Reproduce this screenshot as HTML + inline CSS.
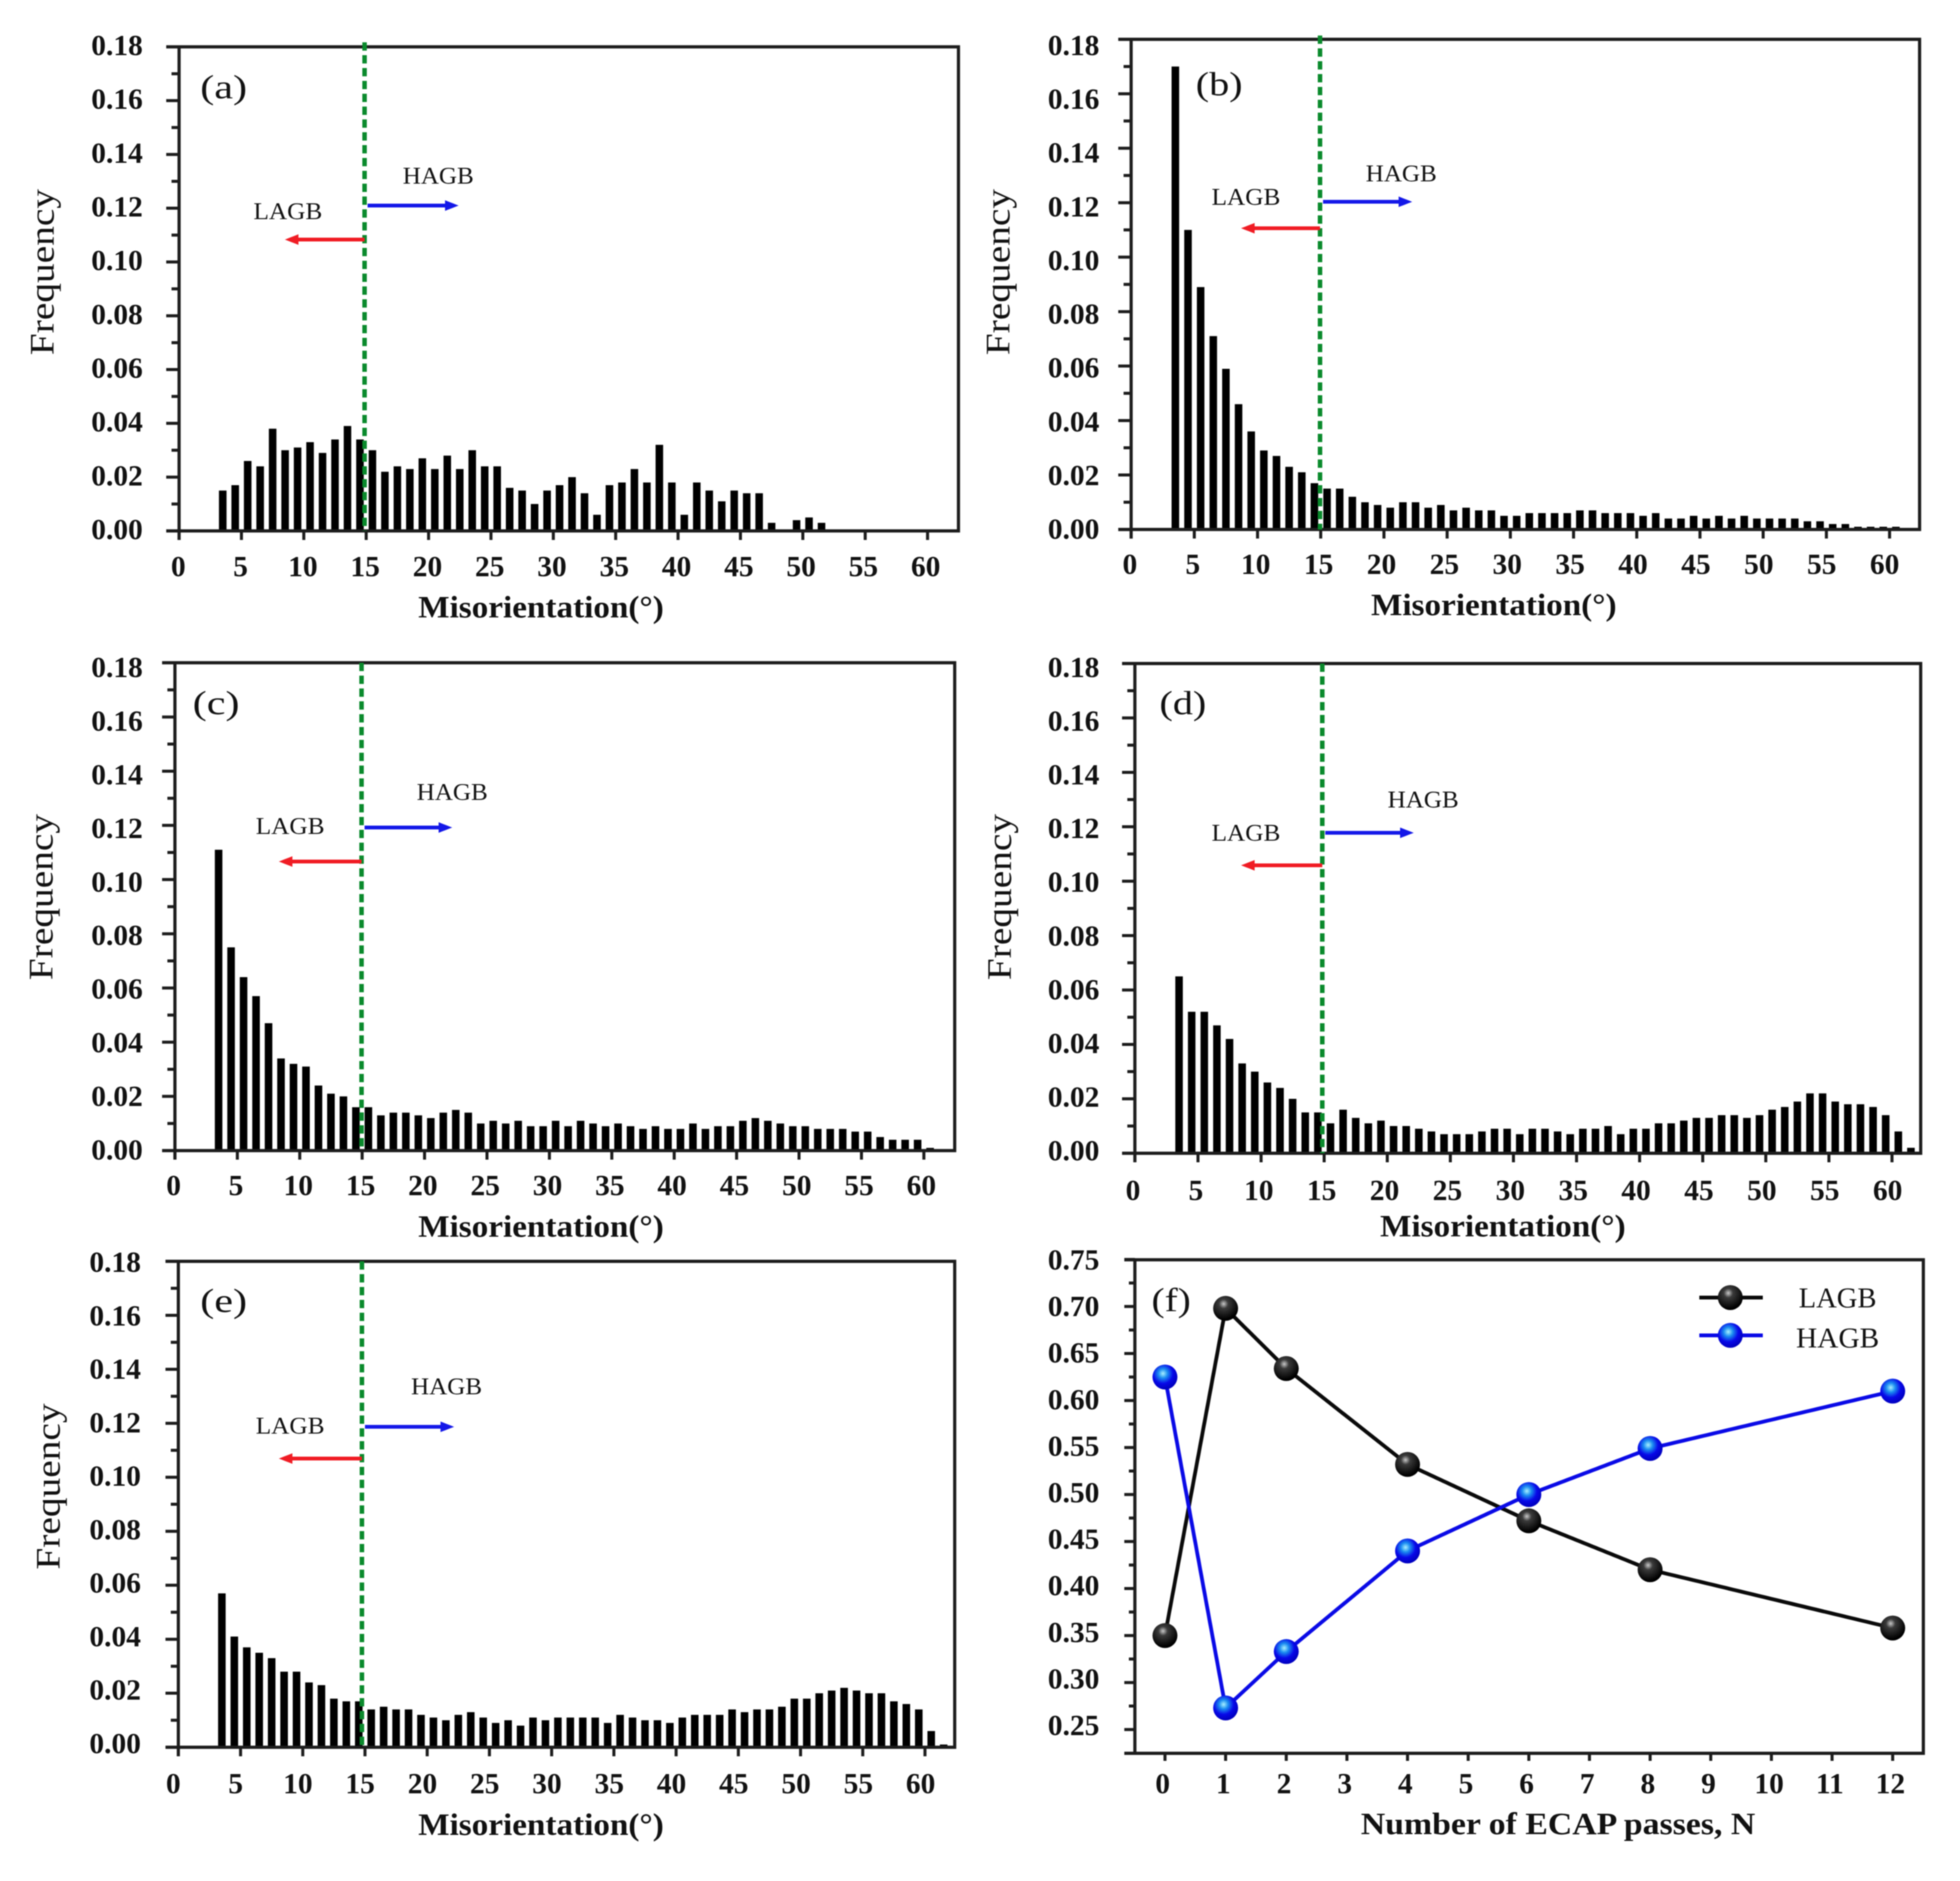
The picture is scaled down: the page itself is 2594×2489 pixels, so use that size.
<!DOCTYPE html>
<html lang="en">
<head>
<meta charset="utf-8">
<title>Misorientation distributions and LAGB/HAGB fractions</title>
<style>
html,body{margin:0;padding:0;background:#fff;width:2594px;height:2489px;overflow:hidden}
svg{display:block;filter:blur(0.9px)}
text{font-family:"Liberation Serif",serif;fill:#111}
.tick{font-weight:bold;font-size:39px}
.title{font-weight:bold;font-size:41px}
.freq{font-size:46px}
.note{font-size:32px}
.letter{font-size:44px}
.legend{font-size:38px}
</style>
</head>
<body>
<svg id="figure" xmlns="http://www.w3.org/2000/svg" width="2594" height="2489" viewBox="0 0 2594 2489">
<defs>
<radialGradient id="ballBlack" cx="0.42" cy="0.32" r="0.62">
<stop offset="0" stop-color="#c8c8c8"/><stop offset="0.3" stop-color="#3a3a3a"/><stop offset="1" stop-color="#000"/>
</radialGradient>
<radialGradient id="ballBlue" cx="0.42" cy="0.36" r="0.62">
<stop offset="0" stop-color="#a8f0ff"/><stop offset="0.3" stop-color="#1a8cf0"/><stop offset="0.65" stop-color="#0808e8"/><stop offset="1" stop-color="#0000c0"/>
</radialGradient>
</defs>
<rect x="0" y="0" width="2594" height="2489" fill="#ffffff"/>
</svg>
<script>
// ---- Histogram data: frequency per 1-degree bin, first bin centred at 3.5 degrees ----
const firstBinCentre = 3.5;
const freqA = [.015,.017,.026,.024,.038,.030,.031,.033,.029,.034,.039,.034,.030,.022,.024,.023,.027,.023,.028,.023,.030,.024,.024,.016,.015,.010,.015,.017,.020,.014,.006,.017,.018,.023,.018,.032,.018,.006,.018,.015,.011,.015,.014,.014,.003,0,.004,.005,.003];
const freqB = [.170,.110,.089,.071,.059,.046,.036,.029,.027,.023,.021,.017,.015,.015,.012,.010,.009,.008,.010,.010,.008,.009,.007,.008,.007,.007,.005,.005,.006,.006,.006,.006,.007,.007,.006,.006,.006,.005,.006,.004,.004,.005,.004,.005,.004,.005,.004,.004,.004,.004,.003,.003,.002,.002,.001,.001,.001,.001];
const freqC = [.111,.075,.064,.057,.047,.034,.032,.031,.024,.021,.020,.016,.016,.013,.014,.014,.013,.012,.014,.015,.014,.010,.011,.010,.011,.009,.009,.011,.009,.011,.010,.009,.010,.009,.008,.009,.008,.008,.010,.008,.009,.009,.011,.012,.011,.010,.009,.009,.008,.008,.008,.007,.007,.005,.004,.004,.004,.001];
const freqD = [.065,.052,.052,.047,.042,.033,.030,.026,.024,.020,.015,.015,.011,.016,.013,.011,.012,.010,.010,.009,.008,.007,.007,.007,.008,.009,.009,.007,.009,.009,.008,.007,.009,.009,.010,.007,.009,.009,.011,.011,.012,.013,.013,.014,.014,.013,.014,.016,.017,.019,.022,.022,.019,.018,.018,.017,.014,.008,.002];
const freqE = [.057,.041,.037,.035,.033,.028,.028,.024,.023,.018,.017,.017,.014,.015,.014,.014,.012,.011,.010,.012,.013,.011,.009,.010,.008,.011,.010,.011,.011,.011,.011,.009,.012,.011,.010,.010,.009,.011,.012,.012,.012,.014,.013,.014,.014,.015,.018,.018,.020,.021,.022,.021,.020,.020,.017,.016,.014,.006,.001];
const freqTickLabels = ["0.00","0.02","0.04","0.06","0.08","0.10","0.12","0.14","0.16","0.18"];
const misorientationTicks = [0,5,10,15,20,25,30,35,40,45,50,55,60];

// ---- Line chart data (panel f) ----
const passCounts = [0,1,2,4,6,8,12];
const lagbFraction = [.350,.698,.634,.532,.472,.420,.358];
const hagbFraction = [.625,.273,.333,.440,.500,.549,.610];
const passTicks = [0,1,2,3,4,5,6,7,8,9,10,11,12];
const fractionTicks = ["0.25","0.30","0.35","0.40","0.45","0.50","0.55","0.60","0.65","0.70","0.75"];

const svg = document.getElementById('figure');
const NS = 'http://www.w3.org/2000/svg';
function add(parent, tag, attrs, txt) {
  const el = document.createElementNS(NS, tag);
  for (const k in attrs) el.setAttribute(k, attrs[k]);
  if (txt !== undefined) el.textContent = txt;
  parent.appendChild(el);
  return el;
}

function drawArrow(g, x1, x2, y, color, name) {
  const dir = x2 > x1 ? 1 : -1;
  const shaft = add(g, 'line', {x1: x1, y1: y, x2: x2 - dir * 12, y2: y, stroke: color, 'stroke-width': 5});
  
  
  const head = add(g, 'polygon', {points: x2 + ',' + y + ' ' + (x2 - dir * 18) + ',' + (y - 7) + ' ' + (x2 - dir * 18) + ',' + (y + 7), fill: color});
  
  
}

function drawHistogram(L, values) {
  const g = add(svg, 'g', {});
  
  
  const xs = function (v) { return L.x0 + v * L.pxPerDeg; };
  const ys = function (v) { return L.zero - v * (L.zero - L.top) / 0.18; };
  const labelY = function (v) { return L.labelY0 + (L.labelY18 - L.labelY0) * v / 0.18 + 13; };
  const labelX = function (v) { return xs(v) + L.labelDx0 + (L.labelDx60 - L.labelDx0) * v / 60; };

  values.forEach(function (v, i) {
    const cx = xs(firstBinCentre + i);
    const bar = add(g, 'rect', {x: cx - 5, y: ys(v), width: 10, height: L.zero - ys(v), fill: '#000'});
    
    
  });

  const frame = add(g, 'path', {d: 'M' + (L.x0 - 17) + ' ' + L.top + 'H' + L.right + 'V' + L.zero + 'H' + (L.x0 - 17) + 'M' + L.x0 + ' ' + L.top + 'V' + (L.zero + 12), fill: 'none', stroke: '#1c1c1c', 'stroke-width': 4.2});
  
  

  for (let k = 1; k < 18; k += 2) {
    const minor = add(g, 'line', {x1: L.x0 - 10, x2: L.x0, y1: ys(k / 100), y2: ys(k / 100), stroke: '#1c1c1c', 'stroke-width': 4});
    
    
  }
  freqTickLabels.forEach(function (lab) {
    const v = parseFloat(lab);
    const y = ys(v);
    const tick = add(g, 'line', {x1: L.x0 - 17, x2: L.x0, y1: y, y2: y, stroke: '#1c1c1c', 'stroke-width': 4});
    
    
    const t = add(g, 'text', {'class': 'tick', x: L.labelRight, y: labelY(v), 'text-anchor': 'end'}, lab);
    
    
  });
  misorientationTicks.forEach(function (v) {
    const x = xs(v);
    const tick = add(g, 'line', {x1: x, x2: x, y1: L.zero, y2: L.zero + 12, stroke: '#1c1c1c', 'stroke-width': 4});
    
    
    const t = add(g, 'text', {'class': 'tick', x: labelX(v), y: L.zero + L.labelDy, 'text-anchor': 'middle'}, String(v));
    
    
  });

  const divider = add(g, 'line', {x1: L.green, x2: L.green, y1: L.greenTop, y2: L.zero, stroke: '#0a8a2c', 'stroke-width': 6, 'stroke-dasharray': '11 6'});
  
  

  drawArrow(g, L.green + 4, L.blueEnd, L.blueY, '#1418e8', 'hagb-arrow');
  drawArrow(g, L.green, L.redEnd, L.redY, '#f01c24', 'lagb-arrow');

  const hagb = add(g, 'text', {'class': 'note', x: L.hagbX, y: L.hagbY + 11, 'text-anchor': 'middle', textLength: 94, lengthAdjust: 'spacingAndGlyphs'}, 'HAGB');
  
  
  const lagb = add(g, 'text', {'class': 'note', x: L.lagbX, y: L.lagbY + 11, 'text-anchor': 'middle', textLength: 91, lengthAdjust: 'spacingAndGlyphs'}, 'LAGB');
  
  

  const letter = add(g, 'text', {'class': 'letter', x: L.letterX, y: L.letterY + 13, 'text-anchor': 'middle', textLength: 62, lengthAdjust: 'spacingAndGlyphs'}, '(' + L.id + ')');
  
  

  const xTitle = add(g, 'text', {'class': 'title', x: L.titleX, y: L.titleY + 14, 'text-anchor': 'middle', textLength: 325, lengthAdjust: 'spacingAndGlyphs'}, 'Misorientation(°)');
  
  

  const yTitle = add(g, 'text', {'class': 'freq', transform: 'translate(' + (L.freqX + 13) + ' ' + L.freqY + ') rotate(-90)', 'text-anchor': 'middle', textLength: 220, lengthAdjust: 'spacingAndGlyphs'}, 'Frequency');
  
  
}

const layoutA = {id:'a', x0:237, pxPerDeg:16.51, right:1268.5, top:62, zero:702.5, green:482.5, greenTop:56, blueEnd:607, blueY:272, redEnd:377, redY:317, hagbX:580, hagbY:232, lagbX:381, lagbY:279, letterX:296, letterY:117, titleX:716, titleY:803, freqX:58, freqY:360, labelDx0:-1, labelDx60:-2.5, labelDy:60, labelRight:189, labelY0:700.6, labelY18:60};
const layoutB = {id:'b', x0:1497, pxPerDeg:16.73, right:2540.5, top:52, zero:700.6, green:1747, greenTop:47, blueEnd:1869, blueY:267, redEnd:1642.5, redY:302, hagbX:1854.5, hagbY:229, lagbX:1649, lagbY:260, letterX:1613.5, letterY:113, titleX:1977, titleY:800, freqX:1323, freqY:360, labelDx0:-1.6, labelDx60:-6.6, labelDy:59, labelRight:1455, labelY0:700, labelY18:60};
const layoutC = {id:'c', x0:231.5, pxPerDeg:16.52, right:1263.5, top:877, zero:1522.5, green:478.5, greenTop:877, blueEnd:598.5, blueY:1095, redEnd:369, redY:1140, hagbX:598.5, hagbY:1047.5, lagbX:384, lagbY:1092.5, letterX:286, letterY:932, titleX:716, titleY:1622.5, freqX:56.5, freqY:1187, labelDx0:-1.7, labelDx60:-3.3, labelDy:59, labelRight:189, labelY0:1521.5, labelY18:883};
const layoutD = {id:'d', x0:1502, pxPerDeg:16.7, right:2542, top:878, zero:1526, green:1750, greenTop:878, blueEnd:1871, blueY:1102, redEnd:1642.5, redY:1145, hagbX:1883.5, hagbY:1057.5, lagbX:1649, lagbY:1101.5, letterX:1565.5, letterY:932, titleX:1989, titleY:1622, freqX:1325, freqY:1187, labelDx0:-2.5, labelDx60:-5.8, labelDy:62, labelRight:1455, labelY0:1522.5, labelY18:883};
const layoutE = {id:'e', x0:236, pxPerDeg:16.47, right:1263.5, top:1669, zero:2312, green:479, greenTop:1669, blueEnd:601, blueY:1888, redEnd:369, redY:1930, hagbX:591, hagbY:1834, lagbX:384, lagbY:1886, letterX:296, letterY:1723, titleX:716, titleY:2414, freqX:66, freqY:1967, labelDx0:-6.6, labelDx60:-5.8, labelDy:61, labelRight:186.5, labelY0:2307, labelY18:1670};

drawHistogram(layoutA, freqA);
drawHistogram(layoutB, freqB);
drawHistogram(layoutC, freqC);
drawHistogram(layoutD, freqD);
drawHistogram(layoutE, freqE);

// ---- Panel f ----
function drawBall(g, x, y, fill, name) {
  const ball = add(g, 'circle', {cx: x, cy: y, r: 16.5, fill: fill});
  
  
}
(function drawLinePanel() {
  const F = {x0: 1541.8, pxPerPass: 80.26, left: 1502, right: 2545.5, top: 1667, bottom: 2320, y25: 2288.6, pxPerUnit: 1244, labelY25: 2283, labelY75: 1667};
  const xs = function (v) { return F.x0 + v * F.pxPerPass; };
  const ys = function (v) { return F.y25 - (v - 0.25) * F.pxPerUnit; };
  const labelY = function (v) { return F.labelY25 + (v - 0.25) * 2 * (F.labelY75 - F.labelY25) + 13; };
  const g = add(svg, 'g', {});
  
  

  const frame = add(g, 'path', {d: 'M' + (F.left - 14) + ' ' + F.top + 'H' + F.right + 'V' + F.bottom + 'H' + (F.left - 14) + 'M' + F.left + ' ' + F.top + 'V' + F.bottom, fill: 'none', stroke: '#1c1c1c', 'stroke-width': 4.2});
  
  

  fractionTicks.forEach(function (lab) {
    const v = parseFloat(lab);
    const tick = add(g, 'line', {x1: F.left - 14, x2: F.left, y1: ys(v), y2: ys(v), stroke: '#1c1c1c', 'stroke-width': 4});
    
    
    const t = add(g, 'text', {'class': 'tick', x: 1455, y: labelY(v), 'text-anchor': 'end'}, lab);
    
    
    if (v < 0.75) {
      const minor = add(g, 'line', {x1: F.left - 8, x2: F.left, y1: ys(v + 0.025), y2: ys(v + 0.025), stroke: '#1c1c1c', 'stroke-width': 4});
      
      
    }
  });

  passTicks.forEach(function (v) {
    const x = xs(v);
    const tick = add(g, 'line', {x1: x, x2: x, y1: F.bottom, y2: F.bottom + 10, stroke: '#1c1c1c', 'stroke-width': 4});
    
    
    const t = add(g, 'text', {'class': 'tick', x: x - 3, y: 2373, 'text-anchor': 'middle'}, String(v));
    
    
  });

  const linePoints = function (arr) {
    return arr.map(function (v, i) { return xs(passCounts[i]) + ',' + ys(v); }).join(' ');
  };
  const lagbLine = add(g, 'polyline', {points: linePoints(lagbFraction), fill: 'none', stroke: '#0a0a0a', 'stroke-width': 5});
  
  
  const hagbLine = add(g, 'polyline', {points: linePoints(hagbFraction), fill: 'none', stroke: '#0a0ae6', 'stroke-width': 5});
  
  
  lagbFraction.forEach(function (v, i) { drawBall(g, xs(passCounts[i]), ys(v), 'url(#ballBlack)', 'lagb-point'); });
  hagbFraction.forEach(function (v, i) { drawBall(g, xs(passCounts[i]), ys(v), 'url(#ballBlue)', 'hagb-point'); });

  const letter = add(g, 'text', {'class': 'letter', x: 1550, y: 1735, 'text-anchor': 'middle', textLength: 52, lengthAdjust: 'spacingAndGlyphs'}, '(f)');
  
  

  const xTitle = add(g, 'text', {'class': 'title', x: 2062, y: 2427, 'text-anchor': 'middle', textLength: 522, lengthAdjust: 'spacingAndGlyphs'}, 'Number of ECAP passes, N');
  
  

  const legend = add(g, 'g', {});
  
  
  const keyBlack = add(legend, 'line', {x1: 2249, x2: 2333, y1: 1717, y2: 1717, stroke: '#0a0a0a', 'stroke-width': 5});
  
  
  drawBall(legend, 2290, 1717, 'url(#ballBlack)', 'legend-marker-lagb');
  const keyBlue = add(legend, 'line', {x1: 2249, x2: 2333, y1: 1767, y2: 1767, stroke: '#0a0ae6', 'stroke-width': 5});
  
  
  drawBall(legend, 2290, 1767, 'url(#ballBlue)', 'legend-marker-hagb');
  const textLagb = add(legend, 'text', {'class': 'legend', x: 2432, y: 1730, 'text-anchor': 'middle', textLength: 103, lengthAdjust: 'spacingAndGlyphs'}, 'LAGB');
  
  
  const textHagb = add(legend, 'text', {'class': 'legend', x: 2432, y: 1783, 'text-anchor': 'middle', textLength: 110, lengthAdjust: 'spacingAndGlyphs'}, 'HAGB');
  
  
})();
</script>
</body>
</html>
